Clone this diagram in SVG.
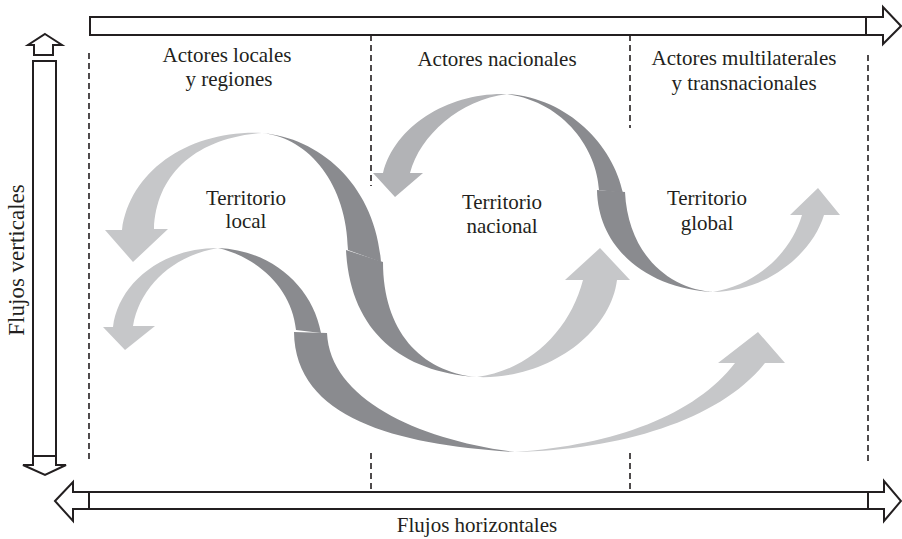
<svg xmlns="http://www.w3.org/2000/svg" width="902" height="539" viewBox="0 0 902 539">
  <style>
    .frame { fill: #ffffff; stroke: #231f20; stroke-width: 2; stroke-linejoin: miter; }
    .tick { fill: none; stroke: #231f20; stroke-width: 2; }
    .dash { fill: none; stroke: #231f20; stroke-width: 1.6; stroke-dasharray: 6 4; }
    .dark { fill: #8a8b8f; }
    .light { fill: #c6c7c9; }
    .mid { fill: #b2b3b6; }
    text { font-family: "Liberation Serif", "Times New Roman", serif; font-size: 21px; fill: #231f20; text-anchor: middle; }
  </style>

  <!-- Axes: horizontal and vertical flow arrows -->
  <g id="axis-top">
    <polygon class="frame" points="90,17 883,17 883,7 901,26 883,44 883,35 90,35"/>
    <line class="tick" x1="866" y1="17" x2="866" y2="35"/>
  </g>
  <g id="axis-bottom">
    <polygon class="frame" points="55,501 73,482 73,492 884,492 884,481 901,501 884,521 884,509 73,509 73,521"/>
    <line class="tick" x1="89" y1="492" x2="89" y2="509"/>
    <line class="tick" x1="868" y1="492" x2="868" y2="509"/>
    <text x="477" y="532">Flujos horizontales</text>
  </g>
  <g id="axis-left">
    <polygon class="frame" points="45,34 62,45 53,45 53,55 34,55 34,45 28,45"/>
    <polygon class="frame" points="33,61 56,61 56,465 66,465 45,475 23,465 33,465"/>
    <line class="tick" x1="33" y1="456" x2="56" y2="456"/>
    <text transform="translate(24,260) rotate(-90)" style="font-size:23px">Flujos verticales</text>
  </g>

  <!-- Column separators -->
  <g id="separators">
    <line class="dash" x1="89" y1="53" x2="89" y2="462"/>
    <line class="dash" x1="868" y1="55" x2="868" y2="462"/>
    <line class="dash" x1="371" y1="35" x2="371" y2="186"/>
    <line class="dash" x1="630" y1="35" x2="630" y2="128"/>
    <line class="dash" x1="371" y1="453" x2="371" y2="490"/>
    <line class="dash" x1="630" y1="453" x2="630" y2="490"/>
  </g>

  <!-- Column headings -->
  <g id="actores-locales">
    <text x="227" y="62">Actores locales</text>
    <text x="229" y="86">y regiones</text>
  </g>
  <g id="actores-nacionales">
    <text x="497" y="66">Actores nacionales</text>
  </g>
  <g id="actores-multilaterales">
    <text x="744" y="65">Actores multilaterales</text>
    <text x="744" y="90">y transnacionales</text>
  </g>

  <!-- Territories -->
  <g id="territorio-local">
    <text x="246" y="205">Territorio</text>
    <text x="246" y="228">local</text>
  </g>
  <g id="territorio-nacional">
    <text x="502" y="209">Territorio</text>
    <text x="502" y="233">nacional</text>
  </g>
  <g id="territorio-global">
    <text x="707" y="205">Territorio</text>
    <text x="707" y="230">global</text>
  </g>

  <!-- Flow ribbons -->
  <g id="flows">
    <!-- local -> national (upper S) -->
    <path class="light" d="M262,133 C190,130 130,170 122,230 L105,230 L133,262 L168,229 L154,229 C156,175 195,138 262,133 Z"/>
    <path class="dark" d="M262,133 C320,138 375,185 381,262 L348,250 C347,185 310,138 262,133 Z"/>
    <path class="dark" d="M346,250 L383,262 C383,330 420,372 477,377 C400,372 350,330 346,250 Z"/>
    <path class="light" d="M477,377 C545,380 610,335 617,280 L630,280 L600,248 L565,280 L583,280 C570,330 530,370 477,377 Z"/>

    <!-- local -> global (lower long sweep) -->
    <path class="light" d="M218,248 C160,248 118,285 113,327 L103,327 L125,350 L155,326 L133,326 C140,285 175,255 218,248 Z"/>
    <path class="dark" d="M218,248 C270,250 312,285 321,333 L296,330 C292,290 260,258 218,248 Z"/>
    <path class="dark" d="M294,332 C295,420 400,445 515,452 C420,440 330,400 327,333 Z"/>
    <path class="light" d="M515,452 C620,450 720,420 765,363 L785,363 L758,332 L718,363 L735,363 C695,415 615,445 515,452 Z"/>

    <!-- national -> global -->
    <path class="mid" d="M507,94 C450,92 395,125 383,173 L373,173 L395,197 L423,173 L410,173 C420,135 460,100 507,94 Z"/>
    <path class="dark" d="M507,94 C568,98 613,145 623,193 L599,190 C597,150 565,102 507,94 Z"/>
    <path class="dark" d="M597,190 L625,192 C628,255 670,290 715,292 C650,290 598,250 597,190 Z"/>
    <path class="light" d="M713,292 C765,292 812,255 824,215 L840,215 L818,188 L790,215 L802,215 C790,255 755,285 713,292 Z"/>
  </g>
</svg>
